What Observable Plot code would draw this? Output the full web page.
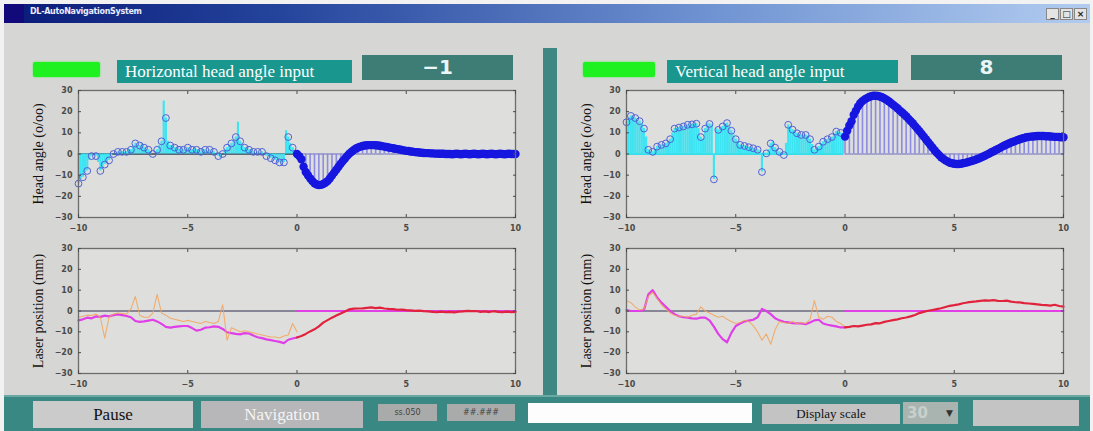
<!DOCTYPE html>
<html><head><meta charset="utf-8">
<script src="https://cdn.jsdelivr.net/npm/d3@7"></script>
<script src="https://cdn.jsdelivr.net/npm/@observablehq/plot@0.6"></script>
<style>
html,body{margin:0;padding:0;}
body{width:1093px;height:431px;overflow:hidden;background:#f2f2f2;position:relative;font-family:"Liberation Serif",serif;}
.a{position:absolute;box-sizing:border-box;}
#win{left:4px;top:4px;width:1086px;height:427px;background:#d6d6d4;}
#titlebar{left:4px;top:4px;width:1086px;height:19px;background:linear-gradient(90deg,#0a1a78 0%,#24449c 25%,#6f93d2 65%,#b2ccf0 100%);}
#tb-left{left:4px;top:4px;width:20px;height:19px;background:#120a7a;}
#tb-text{left:30px;top:7px;font:bold 8px "DejaVu Sans",sans-serif;color:#e8ecff;letter-spacing:-0.3px;}
.wbtn{top:8px;width:13px;height:12px;background:#e4e4e4;border:1px solid #888;font:bold 9px "DejaVu Sans",sans-serif;color:#222;text-align:center;line-height:10px;}
.green{background:#1ff01f;height:15px;border-radius:2px;box-shadow:0 0 2px #3f3;}
.ttl{background:#19968e;height:23px;color:#fff;font-size:17px;line-height:23px;padding-left:8px;white-space:nowrap;}
.val{background:#3e7c76;height:25px;color:#eaf6f8;font:bold 20px "DejaVu Sans",sans-serif;text-align:center;line-height:25px;}
#divider{left:543px;top:48px;width:14px;height:347px;background:#3f8783;}
#bar{left:4px;top:395px;width:1086px;height:36px;background:#3a8884;border-top:2px solid #6aa8a4;}
.btn{font-size:17px;text-align:center;}
.chart{position:absolute;}
</style></head><body>
<div class="a" id="win"></div>
<div class="a" id="titlebar"></div>
<div class="a" id="tb-left"></div>
<div class="a" id="tb-text">DL-AutoNavigationSystem</div>
<div class="a wbtn" style="left:1046px">_</div>
<div class="a wbtn" style="left:1060px">□</div>
<div class="a wbtn" style="left:1074px">×</div>

<div class="a green" style="left:33px;top:62px;width:67px"></div>
<div class="a ttl" style="left:117px;top:60px;width:235px">Horizontal head angle input</div>
<div class="a val" style="left:362px;top:55px;width:151px">−1</div>

<div class="a green" style="left:583px;top:62px;width:72px"></div>
<div class="a ttl" style="left:667px;top:60px;width:231px">Vertical head angle input</div>
<div class="a val" style="left:911px;top:55px;width:151px">8</div>

<div class="a" id="divider"></div>
<div class="a" id="bar"></div>
<div class="a btn" style="left:33px;top:401px;width:160px;height:27px;background:#cbcbcb;color:#111;line-height:27px">Pause</div>
<div class="a btn" style="left:201px;top:401px;width:162px;height:27px;background:#b7b7b9;color:#f4f4f4;line-height:27px">Navigation</div>
<div class="a" style="left:378px;top:404px;width:59px;height:17px;background:#a9abaa;font:8px 'DejaVu Sans',sans-serif;color:#444;text-align:center;line-height:17px">ss.050</div>
<div class="a" style="left:447px;top:404px;width:68px;height:17px;background:#a9abaa;font:8px 'DejaVu Sans',sans-serif;color:#444;text-align:center;line-height:17px">##.###</div>
<div class="a" style="left:528px;top:403px;width:224px;height:20px;background:#fdfdfd"></div>
<div class="a" style="left:762px;top:404px;width:138px;height:20px;background:#c3c3c3;font-size:13px;color:#111;text-align:center;line-height:20px">Display scale</div>
<div class="a" style="left:903px;top:402px;width:55px;height:22px;background:#a9b4b0;font:bold 15px 'DejaVu Sans',sans-serif;color:#c8d0cc;line-height:22px;padding-left:4px">30<span style="position:absolute;left:43px;top:0;font-size:9px;color:#333">▼</span></div>
<div class="a" style="left:973px;top:400px;width:106px;height:26px;background:#c4c4c4"></div>

<div class="chart" id="c1" style="left:20px;top:80px"></div>
<div class="chart" id="c2" style="left:568px;top:80px"></div>
<div class="chart" id="c3" style="left:20px;top:238px"></div>
<div class="chart" id="c4" style="left:568px;top:238px"></div>

<script>
// ---- tick labels / axes ----
const xTicks = [-10, -5, 0, 5, 10];
const yTicks = [-30, -20, -10, 0, 10, 20, 30];
const xDomain = [-10, 10];
const yDomain = [-30, 30];
const headLabel = "Head angle (o/oo)";
const laserLabel = "Laser position (mm)";

// ---- sample times ----
const tNeg = d3.range(100).map(i => +(-10 + i * 0.1).toFixed(1));   // -10.0 .. -0.1
const tPos = d3.range(101).map(i => +(i * 0.1).toFixed(1));         // 0.0 .. 10.0
const sNeg = d3.range(51).map(i => +(-10 + i * 0.2).toFixed(1));    // -10 .. 0
const sPos = d3.range(51).map(i => +(i * 0.2).toFixed(1));          // 0 .. 10

// ---- horizontal head angle: input (t<0) ----
const hNeg = [-14,-12,-11,-9,-8,-3,-1,0,-1,-4,
  -8,-7,-5,-4,-3,-1,0,0,1,1,
  1,1,1,2,2,3,5,4,4,5,
  3,2,2,1,0,0,2,4,6,25,
  17,6,4,4,3,3,2,3,2,2,
  3,2,2,3,2,2,1,2,2,1,
  2,1,1,0,-1,-2,0,2,3,4,
  5,6,8,15,6,4,3,3,2,2,
  1,0,1,0,1,0,-1,-1,-2,-2,
  -3,-4,-4,-5,-4,11,8,5,3,1];
// ---- horizontal head angle: prediction (t>=0) ----
const hPos = [0,-1,-2.5,-6,-8.5,-10,-11.5,-12.8,-13.8,-14.4,
  -14.7,-14.6,-14.2,-13.6,-12.8,-11.6,-10.2,-8.8,-7.4,-6.0,
  -4.6,-3.3,-2.1,-0.9,0.2,1.1,1.9,2.6,3.1,3.5,
  3.8,4.0,4.1,4.2,4.2,4.2,4.1,4.0,3.9,3.7,
  3.5,3.3,3.1,2.9,2.7,2.5,2.3,2.1,1.9,1.7,
  1.5,1.4,1.2,1.1,0.9,0.8,0.7,0.6,0.5,0.4,
  0.4,0.3,0.3,0.2,0.2,0.1,0.1,0.1,0.0,0.0,
  0.0,-0.1,0.0,0.1,0.0,-0.1,0.0,0.1,0.0,-0.1,
  0.0,0.1,0.0,-0.1,0.0,0.1,0.0,-0.1,0.0,0.1,
  0.0,-0.1,0.0,0.1,0.0,-0.1,0.0,0.1,0.0,0.0,0.0];

// ---- vertical head angle: input (t<0) ----
const vNeg = [15,17,18,17.5,17,16,15.5,14,12,8,
  2,1,1,2,3.5,4,4.3,4.5,5,5.5,
  7,10,12,12.2,12.5,13,13,13.5,13.8,14,
  14,14.3,14.3,12,8,7,12,14.6,14.2,13.8,
  -12,12,11.4,12,13,14,14.6,13,11,9,
  7,5.5,4.3,4,3.8,3.5,3.2,3,2.7,2.3,
  2,1.5,-8.5,0.5,0.3,2,5,5.8,3,1.9,
  1,0,-0.5,5,13.8,13,11.5,10.5,9.8,9.2,
  9,9,9,8.5,7,4.5,2,2.5,3.5,4.8,
  5.8,6.5,7,7.4,8,9.5,10.6,10.3,10,9.8];
// ---- vertical head angle: prediction (t>=0) ----
const vPos = [8.2,11,13.5,15.5,18.5,20.5,22.5,24,25,25.8,
  26.4,26.9,27.3,27.5,27.5,27.4,27.2,26.8,26.2,25.6,
  24.9,24.1,23.3,22.5,21.6,20.6,19.7,18.8,17.8,16.7,
  15.6,14.5,13.3,12.1,10.9,9.6,8.3,7.0,5.7,4.4,
  3.1,1.8,0.6,-0.5,-1.5,-2.3,-3.0,-3.6,-4.1,-4.4,
  -4.6,-4.7,-4.7,-4.6,-4.4,-4.2,-3.9,-3.6,-3.3,-3.0,
  -2.6,-2.2,-1.8,-1.3,-0.8,-0.3,0.2,0.8,1.3,1.9,
  2.4,2.9,3.5,4.0,4.5,5.0,5.4,5.8,6.2,6.6,
  7.0,7.3,7.6,7.9,8.1,8.2,8.3,8.4,8.5,8.5,
  8.5,8.5,8.4,8.4,8.3,8.2,8.1,8.1,8.0,7.9,7.9];

// ---- laser position (horizontal) ----
const lmL = [-4.5,-4,-3.2,-3.5,-2.6,-2.8,-2.2,-2.6,-2,-1.6,
  -2,-2.4,-3,-4.8,-5.2,-5,-4.6,-4.2,-5,-6.2,
  -7.6,-8,-7.6,-7.4,-7.2,-7.2,-8.2,-9.4,-9,-8,
  -7.8,-7.4,-7.6,-8.6,-10.2,-10.6,-11,-11.2,-10.6,-10.8,
  -11.8,-12.6,-13,-13.6,-14,-14.4,-14.8,-15.4,-13.8,-13.2,-12.7];
const loL = [-3,-2.5,-2,-2.2,-1.5,-3,-13,-3,-1.5,-1,
  -1.2,-1.5,1,7,-2,-3,-3,-1,8,-1,
  -2,-3.5,-4,-4.5,-5,-4.5,-5,-5.5,-6,-5,
  -5.5,-6,-5,3,-14,-8,-9,-10,-9.5,-10,
  -10.5,-11,-11.5,-12,-12.5,-12.5,-13,-12,-11.5,-6,-10];
const lrL = [-12.7,-12,-11,-9.8,-8.8,-7.4,-5.6,-4.4,-3.2,-2.2,
  -1.2,-0.2,0.8,1.1,1.2,1.3,1.5,1.7,1.4,1.6,
  1.2,1.0,0.9,0.6,0.7,0.4,0.3,0.1,0.2,-0.1,
  -0.2,-0.4,-0.6,-0.3,-0.6,-0.4,-0.7,-0.3,-0.2,0.1,
  -0.1,0.0,-0.4,-0.2,-0.5,-0.1,-0.4,-0.6,-0.3,-0.5,-0.4];

// ---- laser position (vertical) ----
const lmR = [0.5,0,0,0,0.5,8,10,6.5,4,2,
  0,-1.5,-2.5,-3,-3.2,-3.5,-3.7,-3.2,-3.2,-4.5,
  -7.5,-11,-13.5,-15,-10.5,-7.2,-6,-5,-4.6,-4.2,
  -3,1,0,-1.5,-3.5,-4.5,-5.2,-5.5,-5.8,-5.9,
  -6,-6.3,-5.5,-4.5,-4.2,-6,-6.6,-7,-7.4,-7.9,-7.9];
const loR = [5,4,2,0.5,1,7,9,6,3,1,
  -1,-2,-2.5,-2.5,-3,-2,-1.5,2,0,-1,
  -2,-3,-2.5,-4,-5,-6,-5.5,-4.5,-5,-7,
  -10,-14,-11,-16,-9,-5,-5.5,-6,-5,-6,
  -5.5,-6,-4,5,-3,-4,-2.5,-3,-5,-6,-7.5];
const lrR = [-7.9,-7.6,-7.2,-7.4,-7.0,-6.6,-6.4,-5.8,-5.9,-5.2,
  -4.8,-4.4,-4.0,-3.5,-3.1,-2.6,-1.9,-1.0,-0.4,0.1,
  0.5,0.9,1.3,1.9,2.5,2.8,3.2,3.7,4.1,4.4,
  4.6,4.9,5.1,5.0,5.2,4.9,4.8,5.0,4.5,4.2,
  4.1,3.8,3.6,3.4,3.2,2.9,2.8,2.6,3.0,2.4,2.1];

const targetLevel = 0;

const rows = (ts, vs) => ts.map((t, i) => ({t, v: vs[i], i}));
const tickFont = {fontSize: 8, fontWeight: "bold", fontFamily: "DejaVu Sans", fill: "#4a4a4a"};

function chart(id, yLabel, marks, mb) {
  const el = Plot.plot({
    width: 510, height: 160,
    marginLeft: 58, marginRight: 15, marginTop: 10, marginBottom: mb,
    x: {domain: xDomain},
    y: {domain: yDomain},
    style: {background: "transparent", color: "#4a4a4a", overflow: "visible"},
    marks: [
      Plot.frame({fill: "#dedfdd", stroke: "none"}),
      ...marks,
      Plot.frame({stroke: "#6c6c6c", strokeWidth: 1.3}),
      Plot.axisX({ticks: xTicks, tickSize: -3, tickPadding: 11, label: null, ...tickFont}),
      Plot.axisX({ticks: xTicks, anchor: "top", tickSize: -3, tickFormat: () => "", label: null}),
      Plot.axisY({ticks: yTicks, tickSize: -3, tickPadding: 9, label: null, ...tickFont}),
      Plot.axisY({ticks: yTicks, anchor: "right", tickSize: -3, tickFormat: () => "", label: null}),
      Plot.text([yLabel], {text: d => d, frameAnchor: "left", textAnchor: "middle", rotate: -90, dx: -40, fontFamily: "Liberation Serif", fontSize: 14, fill: "#111"})
    ]
  });
  document.getElementById(id).appendChild(el);
}

function headMarks(neg, pos, baseNeg) {
  const N = rows(tNeg, neg), P = rows(tPos, pos);
  return [
    Plot.line(P, {x: "t", y: () => targetLevel, stroke: "#6a6ab8", strokeWidth: 1}),
    Plot.line(N, {x: "t", y: () => targetLevel, stroke: baseNeg, strokeWidth: 2}),
    Plot.ruleX(N, {x: "t", y1: () => targetLevel, y2: "v", stroke: "#3fe4f2", strokeWidth: 2.2}),
    Plot.dot(N.filter(d => d.i % 2 === 0), {x: "t", y: "v", r: 3.4, stroke: "#4e62d6", strokeWidth: 1, fill: "none"}),
    Plot.ruleX(P.filter(d => d.i % 2 === 0), {x: "t", y1: () => targetLevel, y2: "v", stroke: "#8c8ce2", strokeWidth: 1.6}),
    Plot.dot(P, {x: "t", y: "v", r: 4.2, fill: "#1616e0"})
  ];
}

function laserMarks(mag, ora, red) {
  const M = rows(sNeg, mag), O = rows(sNeg, ora), R = rows(sPos, red);
  return [
    Plot.line(M, {x: "t", y: () => targetLevel, stroke: "#6a6a80", strokeWidth: 1.6}),
    Plot.line(R, {x: "t", y: () => targetLevel, stroke: "#e040e6", strokeWidth: 1.8}),
    Plot.line(M, {x: "t", y: "v", stroke: "#e03ee8", strokeWidth: 2.2}),
    Plot.line(O, {x: "t", y: "v", stroke: "#f2a35a", strokeWidth: 1.1, strokeOpacity: 0.85}),
    Plot.line(R, {x: "t", y: "v", stroke: "#e0223c", strokeWidth: 2.2})
  ];
}

chart("c1", headLabel, headMarks(hNeg, hPos, "#5c6a78"), 23);
chart("c2", headLabel, headMarks(vNeg, vPos, "#36dfe8"), 23);
chart("c3", laserLabel, laserMarks(lmL, loL, lrL), 25);
chart("c4", laserLabel, laserMarks(lmR, loR, lrR), 25);
</script>
</body></html>
